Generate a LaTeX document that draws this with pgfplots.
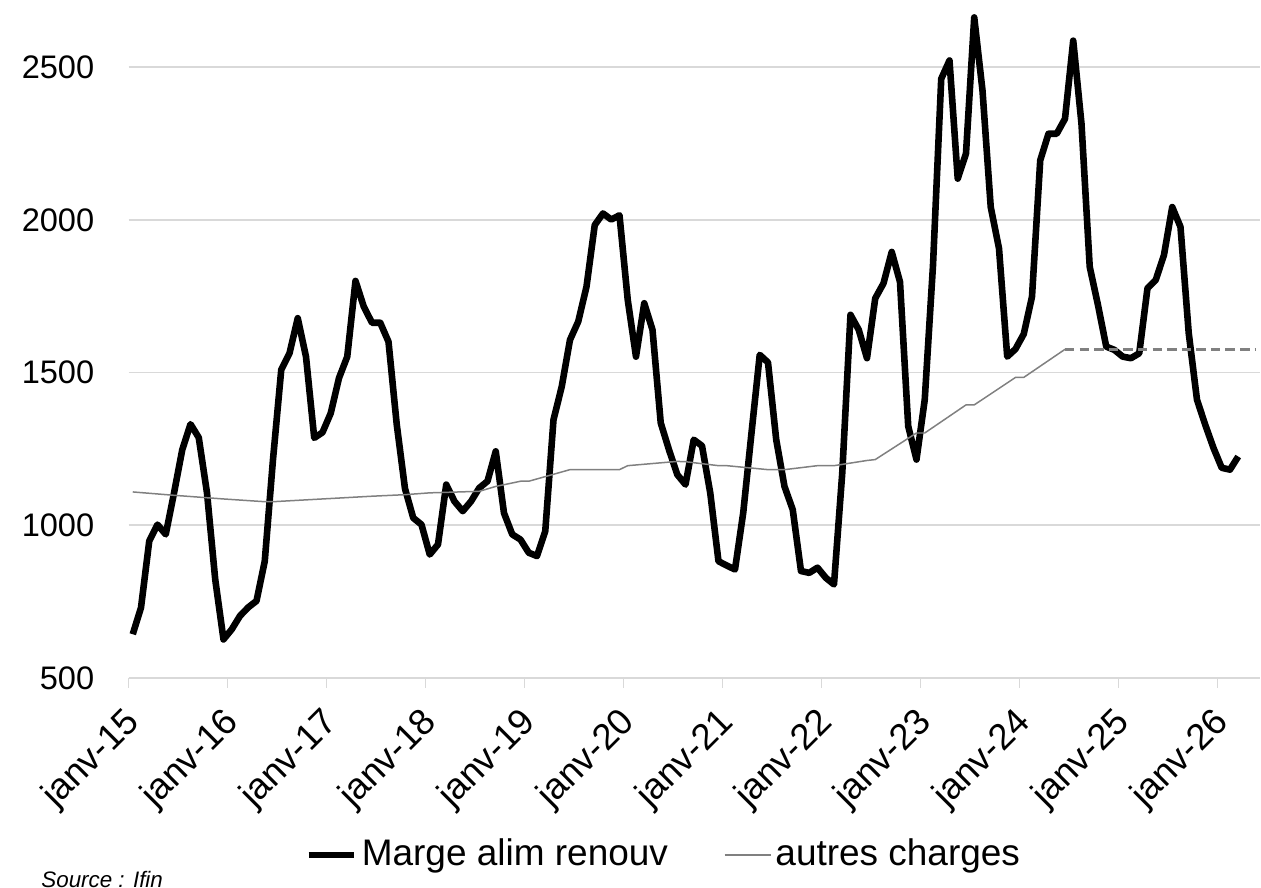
\documentclass[border=0pt]{standalone}
\usepackage{pgfplots}
\pgfplotsset{compat=1.18}
\usepackage{pgfplotstable}
\usepackage{fontspec}
\setmainfont{Liberation Sans}
\definecolor{gridgray}{RGB}{217,217,217}
\definecolor{linegray}{RGB}{128,128,128}

\pgfplotstableread{
m v
0 643
1 730
2 948
3 1002
4 970
5 1105
6 1247
7 1331
8 1287
9 1106
10 822
11 626
12 659
13 703
14 731
15 752
16 882
17 1215
18 1509
19 1563
20 1678
21 1552
22 1286
23 1304
24 1367
25 1482
26 1552
27 1800
28 1716
29 1663
30 1663
31 1601
32 1330
33 1120
34 1024
35 1002
36 904
37 937
38 1133
39 1078
40 1046
41 1078
42 1122
43 1144
44 1242
45 1040
46 970
47 953
48 910
49 899
50 980
51 1345
52 1454
53 1607
54 1667
55 1781
56 1983
57 2021
58 2001
59 2015
60 1738
61 1552
62 1727
63 1640
64 1335
65 1247
66 1166
67 1133
68 1280
69 1260
70 1106
71 882
72 868
73 855
74 1041
75 1302
76 1558
77 1533
78 1280
79 1127
80 1051
81 850
82 844
83 861
84 828
85 806
86 1170
87 1689
88 1640
89 1547
90 1743
91 1792
92 1895
93 1797
94 1324
95 1215
96 1411
97 1850
98 2462
99 2522
100 2135
101 2217
102 2663
103 2424
104 2042
105 1907
106 1552
107 1577
108 1626
109 1748
110 2195
111 2282
112 2282
113 2331
114 2587
115 2315
116 1846
117 1721
118 1585
119 1574
120 1552
121 1547
122 1563
123 1776
124 1803
125 1885
126 2042
127 1977
128 1629
129 1411
130 1329
131 1253
132 1188
133 1182
134 1225
}\marge

\pgfplotstableread{
m v
0 1109
5 1098
11 1086
16 1077
17 1077
23 1086
29 1095
33 1100
36 1106
42 1111
44 1127
47 1144
48 1144
53 1182
59 1182
60 1195
66 1209
67 1208
71 1195
72 1195
77 1182
79 1182
83 1195
85 1195
89 1212
90 1215
95 1302
96 1302
101 1394
102 1394
107 1484
108 1484
113 1576
}\autres

\pgfplotstableread{
m v
113 1576
136 1576
}\autresprev

\begin{document}
\fontsize{18.3}{22}\selectfont
\begin{tikzpicture}
\begin{axis}[
  at={(0,0)}, anchor=south west,
  scale only axis,
  width=566.15pt, height=339.15pt,
  xmin=0, xmax=137.17,
  ymin=500, ymax=2720,
  axis lines*=left,
  x axis line style={draw=gridgray, line width=0.75pt},
  y axis line style={draw=none},
  xtick={0,12,...,132},
  xticklabels={janv-15,janv-16,janv-17,janv-18,janv-19,janv-20,janv-21,janv-22,janv-23,janv-24,janv-25,janv-26},
  ytick={500,1000,1500,2000,2500},
  ymajorgrids,
  grid style={draw=gridgray, line width=0.75pt},
  tick align=outside,
  x tick style={draw=gridgray, line width=0.75pt},
  major tick length=5pt,
  y tick style={draw=none},
  /pgf/number format/assume math mode=true,
  /pgf/number format/1000 sep={},
  yticklabel style={font=\fontsize{16.3}{19}\selectfont, anchor=east, inner sep=0pt, xshift=-12pt},
  xticklabel style={font=\fontsize{18.3}{22}\selectfont, xshift=3pt, yshift=-14.5pt, rotate=45, anchor=east, inner sep=0pt},
  legend columns=2,
  legend style={at={(0.1557,-0.261)}, anchor=west, draw=none, fill=none,
    inner sep=0pt, font=\fontsize{18.5}{22}\selectfont,
    /tikz/every even column/.append style={column sep=26pt},
    nodes={inner xsep=2pt, inner ysep=0pt}},
  legend image code/.code={\draw[#1] (0pt,0pt) -- (23pt,0pt);},
  clip=false,
]
\addplot[black, line width=3.3pt, line join=round] table[x expr=\thisrow{m}+0.5, y=v] {\marge};
\addlegendentry{Marge alim renouv}
\addplot[linegray, line width=0.75pt] table[x expr=\thisrow{m}+0.5, y=v] {\autres};
\addlegendentry{autres charges}
\addplot[linegray, line width=1.4pt, dash pattern=on 4.75pt off 2.55pt, forget plot] table[x expr=\thisrow{m}+0.5, y=v] {\autresprev};
\end{axis}
\node[anchor=base west, inner sep=0pt, font=\fontsize{11.2}{13}\selectfont\itshape] at (-43.85pt,-104.85pt) {Source : Ifin};
\path[use as bounding box] (-64.35pt,-100.85pt) rectangle (566.15pt,339.15pt);
\end{tikzpicture}
\end{document}
